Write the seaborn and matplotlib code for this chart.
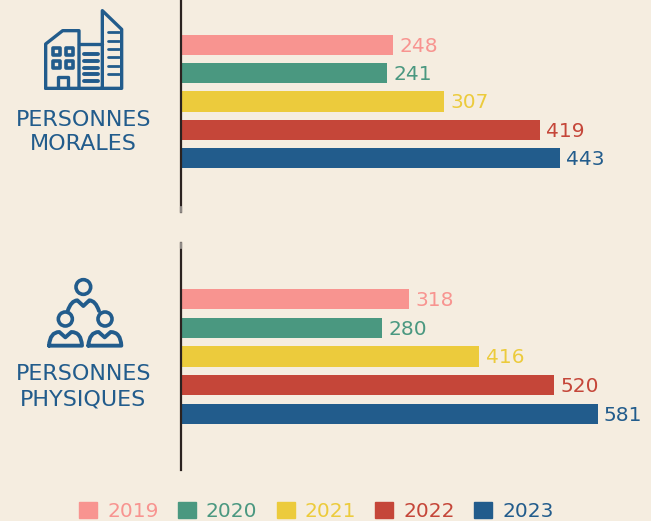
import matplotlib
matplotlib.use("Agg")
import matplotlib.pyplot as plt
import pandas as pd
import seaborn as sns
from matplotlib.patches import Circle, PathPatch, Rectangle
from matplotlib.path import Path

# Data
years = ["2019", "2020", "2021", "2022", "2023"]
morales = [248, 241, 307, 419, 443]
physiques = [318, 280, 416, 520, 581]
colors = ["#F89490", "#4A9880", "#ECCB3C", "#C54639", "#225C8C"]

BG = "#F5EDE0"
BLUE = "#225C8C"
W, H = 651, 521

sns.set_theme(style="white")
plt.rcParams["font.family"] = ["DejaVu Sans"]

fig = plt.figure(figsize=(W / 100, H / 100), dpi=100, facecolor=BG)


def px_axes(left, top, right, bottom):
    return fig.add_axes([left / W, 1 - bottom / H, (right - left) / W, (bottom - top) / H])


def draw_group(values, box, xmax, ylim, width, tail):
    ax = px_axes(*box)
    df = pd.DataFrame({"year": years, "value": values})
    sns.barplot(data=df, y="year", x="value", hue="year", hue_order=years, palette=colors,
                saturation=1, dodge=False, width=width, legend=False, linewidth=0, ax=ax)
    ax.set_xlim(0, xmax)
    ax.set_ylim(*ylim)
    ax.set_facecolor("none")
    ax.set_xlabel("")
    ax.set_ylabel("")
    ax.set_xticks([])
    ax.set_yticks([])
    sns.despine(ax=ax, top=True, right=True, bottom=True)
    ax.spines["left"].set_color("#2B2220")
    ax.spines["left"].set_linewidth(1.6)
    # faded end of the axis line
    ax.axvline(0, ymin=tail[0], ymax=tail[1], color="#8F8A86", lw=1.6, zorder=3, clip_on=False)
    for i, v in enumerate(values):
        ax.annotate(str(v), (v, i), xytext=(4.5, -1), textcoords="offset points", va="center",
                    ha="left", fontsize=14.5, color=colors[i])
    return ax


# Two panels have their own x scale
draw_group(morales, (181, 0, 651, 212), 470 / 0.856, (5.91, -1.59), 0.71, (0, 5 / 212))
draw_group(physiques, (181, 243, 651, 470), 470 / 0.717, (5.95, -1.95), 0.70, (1 - 5 / 227, 1))

# Overlay in pixel coordinates for the icons and side labels
ov = fig.add_axes([0, 0, 1, 1], zorder=-1)
ov.set_xlim(0, W)
ov.set_ylim(H, 0)
ov.axis("off")


def z(pts, oy=0):
    return [(x / 3, y / 3 + oy) for x, y in pts]


def line(pts, oy=0, lw=2.4):
    xy = z(pts, oy)
    ov.plot([p[0] for p in xy], [p[1] for p in xy], color=BLUE, lw=lw,
            solid_joinstyle="round", solid_capstyle="round")


# Building icon
line([(137, 265), (137, 132), (188, 92), (237, 92), (237, 265)])
line([(237, 132), (307, 132)])
line([(307, 265), (307, 32), (365, 88), (365, 265), (137, 265)])
line([(173, 262), (173, 232), (204, 232), (204, 262)])
for y in [97, 122, 148, 172, 197, 222]:
    line([(325, y), (358, y)], lw=2.0)
for y in [162, 183, 203, 222, 242]:
    line([(251, y), (293, y)], lw=2.8)
for wx in [168, 207]:
    for wy in [153, 193]:
        ov.add_patch(Rectangle((wx / 3 - 3.5, wy / 3 - 3.5), 7, 7, fill=False,
                               ec=BLUE, lw=2.6, joinstyle="round"))

# People icon
for cx, cy, r in [(250, 141, 22), (196, 237, 21), (315, 237, 21)]:
    ov.add_patch(Circle((cx / 3, cy / 3 + 240), r / 3, fill=False, ec=BLUE, lw=2.6))


def curve(pts, codes, oy=240):
    ov.add_patch(PathPatch(Path(z(pts, oy), codes), fill=False, ec=BLUE, lw=2.8,
                           joinstyle="round", capstyle="round"))


M, L, C3 = Path.MOVETO, Path.LINETO, Path.CURVE3
curve([(203, 213), (213, 182), (232, 181), (250, 198), (268, 181), (287, 182), (297, 213)],
      [M, C3, C3, L, L, C3, C3])
for dx in [0, 118]:
    curve([(147 + dx, 317), (150 + dx, 276), (178 + dx, 276), (196 + dx, 292), (214 + dx, 276),
           (244 + dx, 276), (246 + dx, 317), (147 + dx, 317)],
          [M, C3, C3, L, L, C3, C3, L])

# Side labels
ov.text(83.5, 120, "PERSONNES", color=BLUE, fontsize=16, ha="center", va="center")
ov.text(83.5, 144, "MORALES", color=BLUE, fontsize=16, ha="center", va="center")
ov.text(83.5, 374, "PERSONNES", color=BLUE, fontsize=16, ha="center", va="center")
ov.text(83.5, 399, "PHYSIQUES", color=BLUE, fontsize=16, ha="center", va="center")

# Legend
handles = [Rectangle((0, 0), 1, 1, color=c) for c in colors]
fig.legend(handles, years, loc="lower left", bbox_to_anchor=(79 / W, 0), ncol=5, frameon=False,
           fontsize=14.5, labelcolor=colors, handlelength=0.9, handleheight=0.9,
           handletextpad=0.5, columnspacing=0.95, borderaxespad=0, borderpad=0)

fig.savefig("out.png", dpi=100, facecolor=BG)
